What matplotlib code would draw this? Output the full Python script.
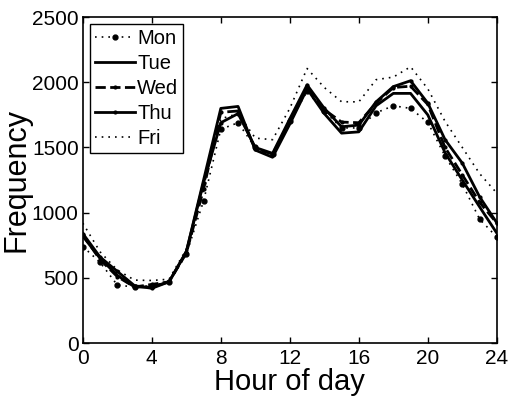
import matplotlib
matplotlib.use("Agg")
import matplotlib.pyplot as plt

hours = list(range(25))
mon = [740, 620, 445, 430, 440, 470, 680, 1090, 1640, 1690, 1500, 1450, 1700, 1930, 1780, 1650, 1650,
       1766, 1820, 1800, 1692, 1434, 1219, 951, 813]
tue = [820, 650, 520, 430, 430, 470, 700, 1250, 1800, 1815, 1480, 1425, 1680, 1950, 1760, 1610, 1620,
       1820, 1915, 1915, 1750, 1460, 1250, 1045, 843]
wed = [830, 640, 510, 430, 450, 470, 690, 1180, 1770, 1780, 1490, 1450, 1700, 1960, 1790, 1695, 1690,
       1840, 1960, 1970, 1830, 1500, 1290, 1080, 920]
thu = [840, 660, 550, 440, 420, 470, 700, 1230, 1690, 1760, 1500, 1455, 1720, 1980, 1800, 1659, 1672,
       1850, 1967, 2012, 1840, 1560, 1380, 1122, 922]
fri = [920, 700, 560, 483, 480, 490, 720, 1200, 1720, 1760, 1572, 1560, 1800, 2106, 1960, 1851, 1850,
       2020, 2040, 2119, 1950, 1700, 1500, 1300, 1150]
labels = ["Mon", "Tue", "Wed", "Thu", "Fri"]
xticks = [0, 4, 8, 12, 16, 20, 24]
yticks = [0, 500, 1000, 1500, 2000, 2500]

plt.rcParams['font.family'] = ['Liberation Sans', 'DejaVu Sans']
fig = plt.figure(figsize=(5.08, 3.98), dpi=100)
ax = fig.add_axes([0.163, 0.138, 0.815, 0.819])

ax.plot(hours, mon, color='black', linestyle=(0, (1, 3)), linewidth=1.2, marker='o', markersize=3.5, label=labels[0])
ax.plot(hours, tue, color='black', linestyle='-', linewidth=2.0, label=labels[1])
ax.plot(hours, wed, color='black', linestyle='--', linewidth=2.0, marker='.', markersize=4, label=labels[2])
ax.plot(hours, thu, color='black', linestyle='-', linewidth=2.0, marker='.', markersize=4, label=labels[3])
ax.plot(hours, fri, color='black', linestyle=(0, (1, 3)), linewidth=1.2, label=labels[4])

ax.set_xlim(0, 24)
ax.set_ylim(0, 2500)
ax.set_xticks(xticks)
ax.set_yticks(yticks)
ax.tick_params(direction='in', top=True, right=True, labelsize=15, length=4, width=1)
ax.tick_params(axis='x', pad=4)
ax.tick_params(axis='y', pad=3)
for s in ax.spines.values():
    s.set_linewidth(1.2)
ax.set_xlabel("Hour of day", fontsize=21, labelpad=0)
ax.set_ylabel("Frequency", fontsize=22, labelpad=0)

leg = ax.legend(loc='upper left', fontsize=14.5, frameon=True, fancybox=False, framealpha=1,
                edgecolor='black', handlelength=2.0, handletextpad=0.1, labelspacing=0.3,
                borderpad=0.25, borderaxespad=0.35)
leg.get_frame().set_linewidth(1.0)

fig.savefig("out.png", dpi=100)
